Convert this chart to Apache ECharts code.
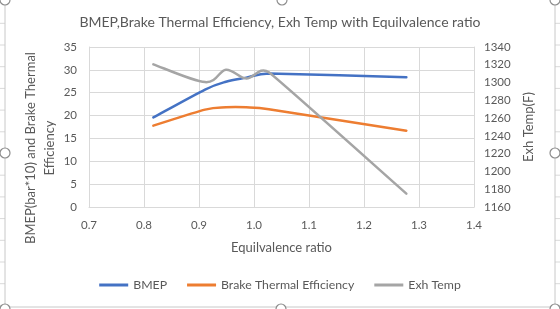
<!DOCTYPE html>
<html>
<head>
<meta charset="utf-8">
<script src="https://cdn.jsdelivr.net/npm/echarts@6/dist/echarts.min.js"></script>
<style>
  html, body { margin: 0; padding: 0; background: #fff; }
  #chart { width: 560px; height: 309px; }
</style>
</head>
<body>
<div id="chart"></div>
<script>
// equivalence ratio (x) and the three series
const phi = [0.817, 0.911, 0.949, 0.986, 1.027, 1.277];
const bmep = [19.6, 25.7, 27.4, 28.3, 29.2, 28.4];
const bte = [17.8, 21.3, 21.8, 21.8, 21.4, 16.7];
const exhTemp = [1320.5, 1300.5, 1314.5, 1304.5, 1311.5, 1175];

const xTicks = [0.7, 0.8, 0.9, 1.0, 1.1, 1.2, 1.3, 1.4];
const leftTicks = [0, 5, 10, 15, 20, 25, 30, 35];
const rightTicks = [1160, 1180, 1200, 1220, 1240, 1260, 1280, 1300, 1320, 1340];

const txt = "#595959";
const grid = "#d9d9d9";
const font = "Lato";

function pairs(xs, ys) {
  return xs.map((x, i) => [x, ys[i]]);
}

function dist(a, b) {
  return Math.hypot(a[0] - b[0], a[1] - b[1]);
}

// excel style smoothed line: tangent (next - prev) * 1/6, arm kept under half of the shorter neighbour segment
function smoothLine(xs, ys, color) {
  return function (params, api) {
    if (params.dataIndex !== 0) return null;
    const p = xs.map((x, i) => api.coord([x, ys[i]]));
    const n = p.length;
    const arm = p.map((pt, i) => {
      const a = p[i - 1] || pt;
      const b = p[i + 1] || pt;
      const d02 = dist(a, b);
      if (d02 === 0) return [0, 0];
      const d01 = dist(a, pt);
      const d12 = dist(pt, b);
      let f = 1 / 6;
      const lim = Math.min(i > 0 ? d01 : Infinity, i < n - 1 ? d12 : Infinity) / 2;
      if (d02 * f > lim) f = lim / d02;
      return [(b[0] - a[0]) * f, (b[1] - a[1]) * f];
    });
    let d = "M" + p[0][0] + "," + p[0][1];
    for (let i = 0; i < n - 1; i++) {
      const c1x = p[i][0] + arm[i][0];
      const c1y = p[i][1] + arm[i][1];
      const c2x = p[i + 1][0] - arm[i + 1][0];
      const c2y = p[i + 1][1] - arm[i + 1][1];
      d += " C" + c1x + "," + c1y + " " + c2x + "," + c2y + " " + p[i + 1][0] + "," + p[i + 1][1];
    }
    return {
      type: "path",
      shape: { pathData: d },
      style: { fill: "none", stroke: color, lineWidth: 2.5, lineCap: "round", lineJoin: "round" },
    };
  };
}

const chart = echarts.init(document.getElementById("chart"), null, { renderer: "canvas" });

// worksheet gridlines peeking out at both sides
const sheetLines = [];
for (let y = 1.6; y < 309; y += 21.7) {
  sheetLines.push({ type: "line", shape: { x1: 0, y1: y, x2: 5, y2: y }, style: { stroke: grid, lineWidth: 1 }, silent: true });
  sheetLines.push({ type: "line", shape: { x1: 555, y1: y, x2: 560, y2: y }, style: { stroke: grid, lineWidth: 1 }, silent: true });
}

const option = {
  animation: false,
  textStyle: { fontFamily: font },
  title: {
    text: "BMEP,Brake Thermal Efficiency, Exh Temp with Equilvalence ratio",
    left: "center",
    top: 10,
    textStyle: { fontFamily: font, fontSize: 14, fontWeight: "normal", color: txt },
  },
  grid: { left: 89, right: 86, top: 47, bottom: 102 },
  legend: {
    bottom: 13,
    left: "center",
    icon: "rect",
    itemWidth: 29,
    itemHeight: 3,
    itemGap: 20,
    textStyle: { fontFamily: font, fontSize: 12.3, color: txt },
    data: ["BMEP", "Brake Thermal Efficiency", "Exh Temp"],
  },
  xAxis: {
    type: "value",
    min: xTicks[0],
    max: xTicks[xTicks.length - 1],
    interval: 0.1,
    name: "Equilvalence ratio",
    nameLocation: "middle",
    nameGap: 34,
    nameTextStyle: { fontFamily: font, fontSize: 13, color: txt },
    axisLine: { show: true, lineStyle: { color: grid } },
    axisTick: { show: false },
    axisLabel: { color: txt, fontSize: 11.5, margin: 12, formatter: (v) => v.toFixed(1) },
    splitLine: { show: true, lineStyle: { color: grid } },
  },
  yAxis: [
    {
      type: "value",
      min: leftTicks[0],
      max: leftTicks[leftTicks.length - 1],
      interval: 5,
      axisLine: { show: true, lineStyle: { color: grid } },
      axisTick: { show: false },
      axisLabel: { color: txt, fontSize: 11.5, margin: 12 },
      splitLine: { show: true, lineStyle: { color: grid } },
    },
    {
      type: "value",
      min: rightTicks[0],
      max: rightTicks[rightTicks.length - 1],
      interval: 20,
      position: "right",
      name: "Exh Temp(F)",
      nameLocation: "middle",
      nameRotate: 90,
      nameGap: 48,
      nameTextStyle: { fontFamily: font, fontSize: 13, color: txt },
      axisLine: { show: true, lineStyle: { color: grid } },
      axisTick: { show: false },
      axisLabel: { color: txt, fontSize: 11.5, margin: 10, formatter: (v) => String(v) },
      splitLine: { show: false },
    },
  ],
  series: [
    {
      name: "BMEP",
      type: "custom",
      data: pairs(phi, bmep),
      itemStyle: { color: "#4472C4" },
      renderItem: smoothLine(phi, bmep, "#4472C4"),
    },
    {
      name: "Brake Thermal Efficiency",
      type: "custom",
      data: pairs(phi, bte),
      itemStyle: { color: "#ED7D31" },
      renderItem: smoothLine(phi, bte, "#ED7D31"),
    },
    {
      name: "Exh Temp",
      type: "custom",
      yAxisIndex: 1,
      data: pairs(phi, exhTemp),
      itemStyle: { color: "#A5A5A5" },
      renderItem: smoothLine(phi, exhTemp, "#A5A5A5"),
    },
  ],
  graphic: [
    ...sheetLines,
    // left axis title, two lines, reading upwards
    {
      type: "text",
      x: 40,
      y: 148,
      rotation: Math.PI / 2,
      style: {
        text: "BMEP(bar*10) and Brake Thermal\nEfficiency",
        fontFamily: font,
        fontSize: 13,
        lineHeight: 19,
        fill: txt,
        align: "center",
        verticalAlign: "middle",
      },
      silent: true,
    },
    // chart area frame and the selection handles round it
    { type: "rect", shape: { x: 5, y: -2, width: 550, height: 309 }, style: { fill: null, stroke: "#c8c8c8", lineWidth: 1 }, silent: true },
    ...[[5, 0], [282, 0], [555, 0], [5, 153], [555, 153], [5, 309], [281, 309], [555, 309]].map((p) => ({
      type: "circle",
      shape: { cx: p[0], cy: p[1], r: 5 },
      style: { fill: "#fff", stroke: "#8c8c8c", lineWidth: 1.2 },
      silent: true,
      z: 100,
    })),
  ],
};

chart.setOption(option);
</script>
</body>
</html>
